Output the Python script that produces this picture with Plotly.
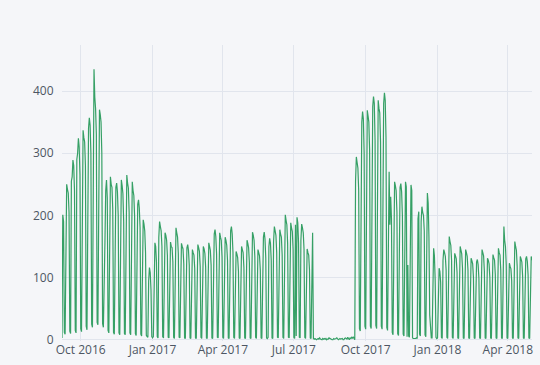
import pandas as pd
import plotly.graph_objects as go

# ---- data (daily values; rows are Mon..Sun weeks) ----
start_date = "2016-09-07"  # first day shown (Wednesday)

values_fall_2016 = [
    3, 201, 190, 12, 9,                       # week of Sep 5 (from Wed)
    218, 250, 242, 236, 205, 14, 10,
    255, 262, 289, 280, 240, 15, 11,
    290, 300, 324, 310, 265, 18, 13,
    300, 337, 325, 318, 280, 22, 16,
    315, 340, 357, 345, 300, 25, 20,
    360, 435, 390, 372, 330, 28, 24,
    340, 370, 362, 350, 300, 26, 20,
    150, 157, 240, 257, 228, 15, 11,
    225, 262, 250, 245, 210, 12, 9,
    230, 245, 252, 238, 200, 11, 8,
    232, 257, 248, 235, 190, 10, 8,
    238, 265, 252, 244, 205, 11, 8,
    225, 254, 240, 232, 198, 10, 7,
    200, 218, 225, 212, 180, 9, 6,
    170, 193, 186, 175, 140, 7, 5,
    4, 95, 116, 108, 80, 5, 3,
]

values_2017 = [
    5, 140, 156, 150, 125, 5, 3,
    165, 190, 182, 175, 150, 5, 3,
    150, 172, 168, 160, 135, 4, 3,
    140, 157, 150, 148, 125, 4, 2,
    158, 180, 172, 165, 138, 4, 3,
    135, 155, 150, 146, 122, 3, 2,
    132, 148, 153, 144, 120, 3, 2,
    125, 145, 140, 136, 115, 3, 2,
    133, 153, 148, 142, 118, 4, 2,
    130, 150, 146, 139, 117, 3, 2,
    136, 156, 150, 144, 120, 3, 2,
    150, 170, 177, 166, 138, 4, 3,
    148, 172, 165, 160, 133, 4, 2,
    142, 165, 160, 152, 128, 3, 2,
    150, 175, 182, 170, 140, 4, 2,
    122, 142, 138, 132, 110, 3, 2,
    128, 150, 145, 140, 116, 3, 2,
    138, 160, 155, 148, 124, 3, 2,
    148, 173, 168, 160, 133, 4, 2,
    126, 145, 140, 135, 112, 3, 2,
    150, 165, 173, 162, 132, 3, 2,
    4, 150, 163, 155, 128, 3, 2,
    158, 182, 175, 168, 140, 4, 3,
    152, 177, 170, 165, 136, 4, 2,
    172, 201, 192, 185, 155, 4, 3,
    160, 188, 180, 174, 145, 4, 2,
    185, 6, 197, 188, 155, 4, 3,
    160, 186, 180, 172, 145, 4, 2,
    128, 146, 140, 136, 112, 3, 2,
    165, 172, 2, 1, 2, 1, 0,
    1, 2, 1, 3, 1, 0, 0,
    2, 1, 2, 1, 2, 0, 1,
    1, 3, 2, 1, 1, 0, 0,
    2, 1, 1, 2, 3, 1, 0,
    1, 2, 1, 1, 2, 0, 0,
    2, 3, 2, 1, 4, 1, 0,
    3, 2, 4, 2, 5, 1, 0,
    255, 294, 285, 276, 240, 18, 14,
    320, 350, 367, 355, 300, 22, 17,
    325, 369, 360, 350, 305, 22, 18,
    340, 375, 391, 380, 320, 23, 18,
    338, 385, 372, 365, 318, 22, 17,
    345, 380, 397, 385, 325, 20, 15,
    240, 270, 185, 230, 195, 12, 8,
    225, 254, 248, 240, 205, 10, 7,
    222, 245, 251, 238, 200, 9, 6,
    225, 254, 246, 5, 120, 6, 4,
    220, 249, 240, 3, 2, 2, 1,
    2, 3, 2, 195, 206, 9, 6,
    190, 214, 205, 200, 175, 8, 5,
    210, 236, 220, 165, 40, 5, 3,
    3, 120, 147, 135, 95, 4, 2,
]

values_2018 = [
    3, 100, 115, 110, 92, 4, 2,
    128, 145, 140, 134, 112, 4, 2,
    140, 166, 158, 152, 128, 4, 2,
    120, 139, 135, 130, 108, 3, 2,
    130, 150, 144, 138, 115, 3, 2,
    126, 145, 140, 134, 112, 3, 2,
    115, 131, 127, 122, 100, 3, 2,
    112, 125, 129, 121, 98, 3, 2,
    125, 145, 140, 135, 110, 3, 2,
    115, 131, 128, 122, 100, 3, 2,
    120, 137, 132, 128, 105, 3, 2,
    128, 147, 140, 136, 112, 3, 2,
    150, 182, 160, 150, 120, 3, 2,
    105, 123, 118, 114, 95, 3, 2,
    135, 158, 150, 144, 118, 3, 2,
    118, 134, 130, 125, 102, 3, 2,
    116, 130, 134, 126, 104, 3, 2,
    118, 134, 128,
]

values = values_fall_2016 + values_2017 + values_2018
dates = pd.date_range(start_date, periods=len(values), freq="D")

y_range = [-2, 474]

# ---- figure ----
BG = "#F5F6F9"
GRID = "#E1E5ED"
FONT = "#4D5663"

fig = go.Figure()
fig.add_trace(go.Scatter(
    x=dates, y=values, mode="lines",
    line=dict(color="#36A066", width=1.2),
    showlegend=False,
))

fig.update_layout(
    width=540, height=365,
    margin=dict(l=62, r=8, t=45, b=24),
    paper_bgcolor=BG, plot_bgcolor=BG,
    font=dict(family="Open Sans, sans-serif", size=12, color=FONT),
    xaxis=dict(
        range=[dates[0], dates[-1]],
        showgrid=True, gridcolor=GRID, zeroline=False,
        dtick="M3", tickformat="%b %Y",
        tickfont=dict(size=12, color=FONT),
    ),
    yaxis=dict(
        range=y_range,
        showgrid=True, gridcolor=GRID, zeroline=False,
        tickvals=[0, 100, 200, 300, 400],
        ticks="outside", ticklen=5, tickcolor=BG,
        tickfont=dict(size=12, color=FONT),
    ),
    yaxis2=dict(
        overlaying="y", side="left", range=y_range,
        tickvals=[0], ticks="outside", ticklen=5, tickcolor="#8a8f99",
        showticklabels=False, showgrid=False, zeroline=False,
    ),
)

fig.write_html(
    "out.html",
    config={"displayModeBar": False},
    post_script="document.body.style.margin='0';document.body.style.background='#F5F6F9';",
)
